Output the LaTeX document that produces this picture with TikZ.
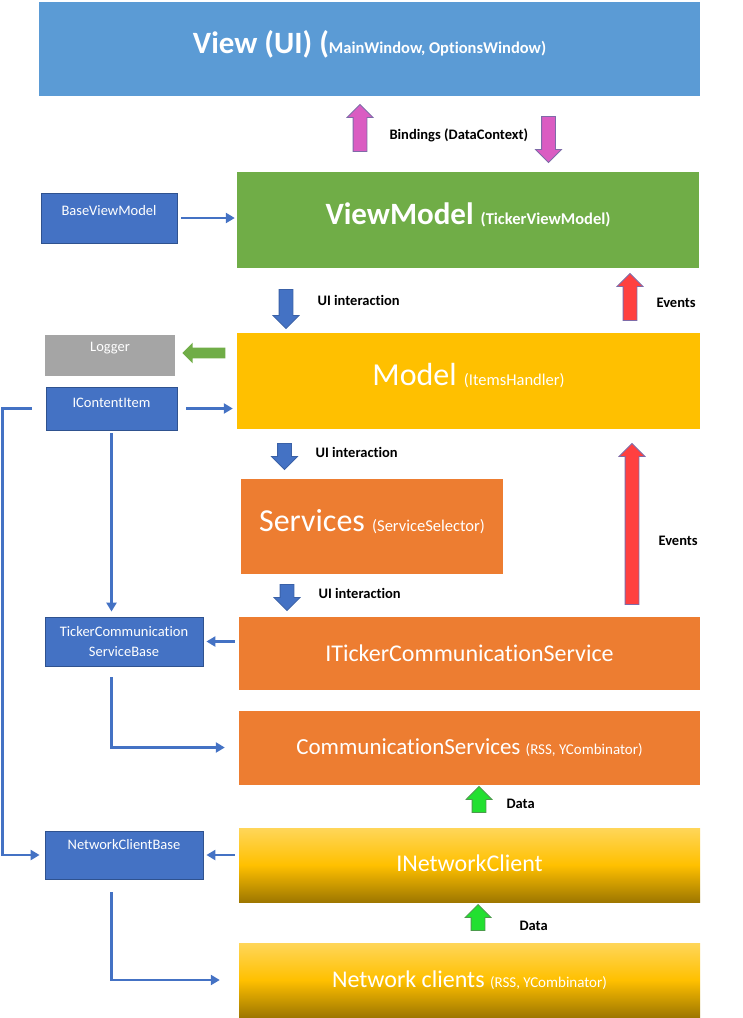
\documentclass[tikz,border=0pt]{standalone}
\usepackage{fontspec}
\setmainfont{Carlito}[Ligatures=NoCommon]
\usetikzlibrary{arrows.meta,shapes.arrows}

\definecolor{viewblue}{HTML}{5B9BD5}
\definecolor{vmgreen}{HTML}{70AD47}
\definecolor{modelgold}{HTML}{FFC000}
\definecolor{svcorange}{HTML}{ED7D31}
\definecolor{tagblue}{HTML}{4472C4}
\definecolor{tagedge}{HTML}{2F528F}
\definecolor{loggray}{HTML}{A5A5A5}
\definecolor{bindpink}{HTML}{DA5CC2}
\definecolor{bindedge}{HTML}{7E6BA8}
\definecolor{eventred}{HTML}{FF4040}
\definecolor{datagreen}{HTML}{22E030}
\definecolor{dataedge}{HTML}{4C9A4C}

\newcommand\subname[1]{{\fontsize{16.5}{19}\selectfont #1}}
\newcommand\subsmall[1]{{\fontsize{15}{18}\selectfont #1}}

\begin{document}
\begin{tikzpicture}[x=1pt,y=-1pt,
	layer/.style={rectangle, inner sep=0pt, text=white, minimum width=461pt, minimum height=74pt},
	lifted/.style={text height=23pt, text depth=#1},
	netlayer/.style={layer, top color=modelgold!65!white, bottom color=modelgold!62!black, middle color=modelgold},
	tag/.style={rectangle, draw=tagedge, line width=0.8pt, fill=tagblue, text=white, inner sep=0pt, align=center, font=\fontsize{14.5}{20}\selectfont},
	tagtop/.style={tag, text height=10.5pt, text depth=#1},
	link/.style={draw=tagblue, line width=2.6pt, -{Triangle[length=9pt,width=10pt]}},
	fat/.style={single arrow, inner sep=6.5pt, single arrow head extend=6pt, minimum height=#1, line width=0.8pt},
	lbl/.style={anchor=west, font=\fontsize{14.5}{16}\selectfont\bfseries}]
	\useasboundingbox (0,0) rectangle (743,1018);

	% layers
	\node[layer, lifted=14pt, fill=viewblue, minimum width=661pt, minimum height=94pt, font=\fontsize{31}{36}\selectfont\bfseries] (view) at (369.5,49) {View (UI) (\subname{MainWindow, OptionsWindow)}};
	\node[layer, lifted=15pt, fill=vmgreen, minimum width=462pt, minimum height=96pt, font=\fontsize{31}{36}\selectfont\bfseries] (vm) at (468,220) {ViewModel \subname{(TickerViewModel)}};
	\node[layer, lifted=14pt, fill=modelgold, minimum width=463pt, minimum height=96pt, font=\fontsize{32}{38}\selectfont] (model) at (468.5,381) {Model \subname{(ItemsHandler)}};
	\node[layer, lifted=13pt, fill=svcorange, minimum width=262pt, minimum height=95pt, font=\fontsize{32}{38}\selectfont] (services) at (372,526.5) {Services \subname{(ServiceSelector)}};
	\node[layer, fill=svcorange, minimum height=73pt, font=\fontsize{24}{29}\selectfont] (itcs) at (469.5,653.5) {ITickerCommunicationService};
	\node[layer, fill=svcorange, font=\fontsize{23}{28}\selectfont] (comm) at (469.5,747.5) {CommunicationServices \subsmall{(RSS, YCombinator)}};
	\node[netlayer, text height=18pt, text depth=6pt, font=\fontsize{24}{29}\selectfont] (inet) at (469.5,865) {INetworkClient};
	\node[netlayer, font=\fontsize{24}{29}\selectfont] (netcl) at (469.5,980) {Network clients \subsmall{(RSS, YCombinator)}};

	% base classes
	\node[tagtop=15pt, minimum width=136pt, minimum height=50pt] (bvm) at (109,218) {BaseViewModel};
	\node[tagtop=17pt, draw=none, fill=loggray, minimum width=130pt, minimum height=41pt] (logger) at (110,355) {Logger};
	\node[tagtop=12pt, minimum width=131pt, minimum height=43pt] (ici) at (111.5,408.5) {IContentItem};
	\node[tag, minimum width=158pt, minimum height=49pt] (tcsb) at (124,641.5) {TickerCommunication\\ServiceBase};
	\node[tagtop=21pt, minimum width=158pt, minimum height=48pt] (ncb) at (124,855) {NetworkClientBase};

	% links
	\draw[link, shorten <=4pt, shorten >=2pt] (bvm) -- (bvm -| vm.west);
	\draw[link, shorten <=9pt, shorten >=4pt] (ici) -- (ici -| model.west);
	\draw[link, shorten <=3pt, shorten >=5pt] (ici) -- (ici |- tcsb.north);
	\draw[link, shorten <=4pt, shorten >=3pt] (itcs.west |- tcsb) -- (tcsb);
	\draw[link, shorten <=11pt, shorten >=14pt] (tcsb.south -| ici) |- (comm.west);
	\draw[link, shorten <=14pt, shorten >=5pt] (ici.west) -- ++(-43,0) |- (ncb.west);
	\draw[link, shorten <=4pt, shorten >=3pt] (inet.west |- ncb) -- (ncb);
	\draw[link, shorten <=13pt, shorten >=19pt] (ncb.south -| ici) |- (netcl.west);

	% block arrows
	\node[fat=47pt, rotate=90, fill=bindpink, draw=bindedge] (bindup) at (360,131.5) {};
	\node[fat=46pt, rotate=-90, fill=bindpink, draw=bindedge] (binddown) at (548.5,136) {};
	\node[fat=39pt, rotate=-90, fill=tagblue, draw=tagblue!85!black] (uidown) at (286,305.5) {};
	\node[fat=47pt, rotate=90, fill=eventred, draw=bindedge] (evup) at (630,300.5) {};
	\node[fat=43pt, rotate=180, inner sep=5pt, single arrow head extend=5pt, fill=vmgreen, draw=none] (logarrow) at (206.5,353) {};
	\node[fat=26pt, rotate=-90, fill=tagblue, draw=tagblue!85!black] (uidown2) at (284.5,453) {};
	\node[fat=161pt, rotate=90, fill=eventred, draw=bindedge] (evup2) at (632,527.5) {};
	\node[fat=26pt, rotate=-90, fill=tagblue, draw=tagblue!85!black] (uidown3) at (287,594) {};
	\node[fat=26pt, rotate=90, fill=datagreen, draw=dataedge] (dataup) at (479,803) {};
	\node[fat=26pt, rotate=90, fill=datagreen, draw=dataedge] (dataup2) at (478,921) {};

	% labels
	\node[lbl] (bindtxt) at (386,135) {Bindings (DataContext)};
	\node[lbl] (uitxt) at (314,300) {UI interaction};
	\node[lbl] (evtxt) at (653,303) {Events};
	\node[lbl] (uitxt2) at (312,452) {UI interaction};
	\node[lbl] (evtxt2) at (655,541) {Events};
	\node[lbl] (uitxt3) at (315,593) {UI interaction};
	\node[lbl] (datatxt) at (503,804) {Data};
	\node[lbl] (datatxt2) at (516,926) {Data};
\end{tikzpicture}
\end{document}
